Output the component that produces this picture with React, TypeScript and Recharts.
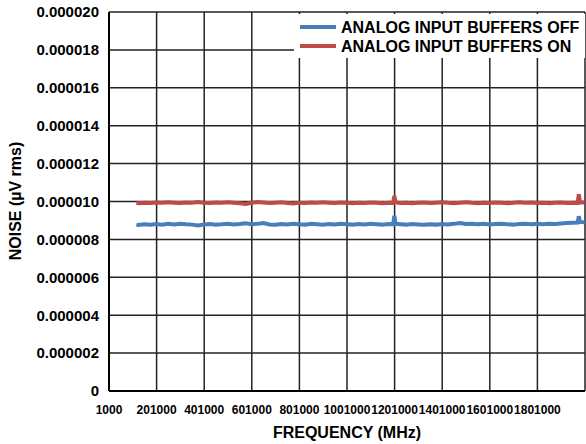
import { LineChart, Line, XAxis, YAxis, CartesianGrid, Label } from 'recharts'

const FONT = '"Liberation Sans", Arial, sans-serif'

const X_TICKS = [1000, 201000, 401000, 601000, 801000, 1001000, 1201000, 1401000, 1601000, 1801000, 2001000]
const Y_TICKS = [0, 0.000002, 0.000004, 0.000006, 0.000008, 0.00001, 0.000012, 0.000014, 0.000016, 0.000018, 0.00002]

const FREQ = [
  116000, 125000, 150000, 175000, 200000, 225000, 250000, 275000, 300000, 325000,
  350000, 375000, 400000, 425000, 450000, 475000, 500000, 525000, 550000, 575000,
  600000, 625000, 650000, 675000, 700000, 725000, 750000, 775000, 800000, 825000,
  850000, 875000, 900000, 925000, 950000, 975000, 1000000, 1025000, 1050000, 1075000,
  1100000, 1125000, 1150000, 1175000, 1195000, 1200000, 1205000, 1225000, 1250000, 1275000,
  1300000, 1325000, 1350000, 1375000, 1400000, 1425000, 1450000, 1475000, 1500000, 1525000,
  1550000, 1575000, 1600000, 1625000, 1650000, 1675000, 1700000, 1725000, 1750000, 1775000,
  1800000, 1825000, 1850000, 1875000, 1900000, 1925000, 1950000, 1970000, 1975000, 1980000,
  2000000,
]

// analog input buffers off
const BUFFERS_OFF = [
  8.78e-6, 8.76e-6, 8.80e-6, 8.77e-6, 8.81e-6, 8.78e-6, 8.82e-6, 8.79e-6, 8.83e-6, 8.80e-6,
  8.78e-6, 8.74e-6, 8.79e-6, 8.81e-6, 8.78e-6, 8.80e-6, 8.83e-6, 8.79e-6, 8.81e-6, 8.85e-6,
  8.80e-6, 8.82e-6, 8.86e-6, 8.79e-6, 8.77e-6, 8.81e-6, 8.79e-6, 8.83e-6, 8.80e-6, 8.78e-6,
  8.82e-6, 8.80e-6, 8.77e-6, 8.81e-6, 8.79e-6, 8.82e-6, 8.80e-6, 8.78e-6, 8.81e-6, 8.79e-6,
  8.82e-6, 8.80e-6, 8.78e-6, 8.81e-6, 8.80e-6, 9.25e-6, 8.82e-6, 8.80e-6, 8.78e-6, 8.81e-6,
  8.79e-6, 8.77e-6, 8.80e-6, 8.78e-6, 8.81e-6, 8.79e-6, 8.82e-6, 8.86e-6, 8.81e-6, 8.83e-6,
  8.80e-6, 8.82e-6, 8.79e-6, 8.81e-6, 8.83e-6, 8.80e-6, 8.78e-6, 8.81e-6, 8.83e-6, 8.80e-6,
  8.82e-6, 8.80e-6, 8.83e-6, 8.81e-6, 8.84e-6, 8.86e-6, 8.88e-6, 8.89e-6, 9.22e-6, 8.92e-6,
  8.90e-6,
]

// analog input buffers on
const BUFFERS_ON = [
  9.93e-6, 9.91e-6, 9.94e-6, 9.92e-6, 9.95e-6, 9.93e-6, 9.96e-6, 9.94e-6, 9.92e-6, 9.95e-6,
  9.93e-6, 9.97e-6, 9.94e-6, 9.92e-6, 9.95e-6, 9.93e-6, 9.96e-6, 9.94e-6, 9.91e-6, 9.87e-6,
  9.93e-6, 9.97e-6, 9.95e-6, 9.92e-6, 9.94e-6, 9.96e-6, 9.92e-6, 9.89e-6, 9.94e-6, 9.92e-6,
  9.95e-6, 9.93e-6, 9.96e-6, 9.94e-6, 9.92e-6, 9.95e-6, 9.93e-6, 9.91e-6, 9.94e-6, 9.92e-6,
  9.95e-6, 9.93e-6, 9.91e-6, 9.94e-6, 9.93e-6, 10.30e-6, 9.95e-6, 9.92e-6, 9.94e-6, 9.91e-6,
  9.93e-6, 9.95e-6, 9.92e-6, 9.94e-6, 9.96e-6, 9.93e-6, 9.91e-6, 9.94e-6, 9.96e-6, 9.93e-6,
  9.91e-6, 9.94e-6, 9.92e-6, 9.95e-6, 9.93e-6, 9.91e-6, 9.94e-6, 9.96e-6, 9.93e-6, 9.95e-6,
  9.92e-6, 9.94e-6, 9.91e-6, 9.93e-6, 9.95e-6, 9.92e-6, 9.94e-6, 9.93e-6, 10.38e-6, 9.96e-6,
  9.95e-6,
]

const SERIES = [
  { key: 'off', name: 'ANALOG INPUT BUFFERS OFF', color: '#4a7ebb' },
  { key: 'on', name: 'ANALOG INPUT BUFFERS ON', color: '#be4b48' },
]

const data = FREQ.map((f, i) => ({ f, off: BUFFERS_OFF[i], on: BUFFERS_ON[i] }))

function XTick({ x, y, payload }: any) {
  const v = payload.value
  if (v === 2001000) return <g />
  return (
    <text x={x} y={y + 21} textAnchor="middle" fontFamily={FONT} fontWeight="bold" fontSize={12} fill="#000">
      {String(v)}
    </text>
  )
}

// legend sits over the plot with a white box, like the original
function LegendBox() {
  return (
    <svg
      width={291}
      height={44}
      style={{ position: 'absolute', left: 294, top: 14, display: 'block', background: '#fff' }}
    >
      {SERIES.map((s, i) => (
        <g key={s.key}>
          <line x1={6} x2={42} y1={13 + i * 19} y2={13 + i * 19} stroke={s.color} strokeWidth={4} />
          <text x={47} y={18.7 + i * 19} fontFamily={FONT} fontWeight="bold" fontSize={16} fill="#000">
            {s.name}
          </text>
        </g>
      ))}
    </svg>
  )
}

export default function App() {
  return (
    <div style={{ position: 'absolute', left: 0, top: 0, width: 586, height: 444, background: '#fff' }}>
      <LineChart width={586} height={444} data={data} margin={{ top: 12, right: 1, bottom: 23, left: 0 }}>
        <CartesianGrid stroke="#222" strokeWidth={1.5} />
        <XAxis
          dataKey="f"
          type="number"
          domain={[1000, 2001000]}
          ticks={X_TICKS}
          interval={0}
          height={30}
          tick={<XTick />}
          tickLine={false}
          tickSize={0}
          axisLine={{ stroke: '#000', strokeWidth: 2 }}
        >
          <Label
            content={() => (
              <text x={347} y={438} textAnchor="middle" fontFamily={FONT} fontWeight="bold" fontSize={16} fill="#000">
                FREQUENCY (MHz)
              </text>
            )}
          />
        </XAxis>
        <YAxis
          type="number"
          domain={[0, 0.00002]}
          ticks={Y_TICKS}
          width={109}
          interval={0}
          tickLine={false}
          tickSize={0}
          tickMargin={10}
          axisLine={{ stroke: '#000', strokeWidth: 2 }}
          tick={{ fontFamily: FONT, fontWeight: 'bold', fontSize: 15, fill: '#000' }}
          tickFormatter={(v: number) => (v === 0 ? '0' : v.toFixed(6))}
        >
          <Label
            content={() => (
              <text
                x={15}
                y={201}
                transform="rotate(-90 15 201)"
                textAnchor="middle"
                dominantBaseline="central"
                fontFamily={FONT}
                fontWeight="bold"
                fontSize={16}
                fill="#000"
              >
                NOISE (µV rms)
              </text>
            )}
          />
        </YAxis>
        {SERIES.map((s) => (
          <Line
            key={s.key}
            dataKey={s.key}
            name={s.name}
            stroke={s.color}
            strokeWidth={4}
            dot={false}
            activeDot={false}
            type="linear"
            isAnimationActive={false}
          />
        ))}
      </LineChart>
      <LegendBox />
    </div>
  )
}
